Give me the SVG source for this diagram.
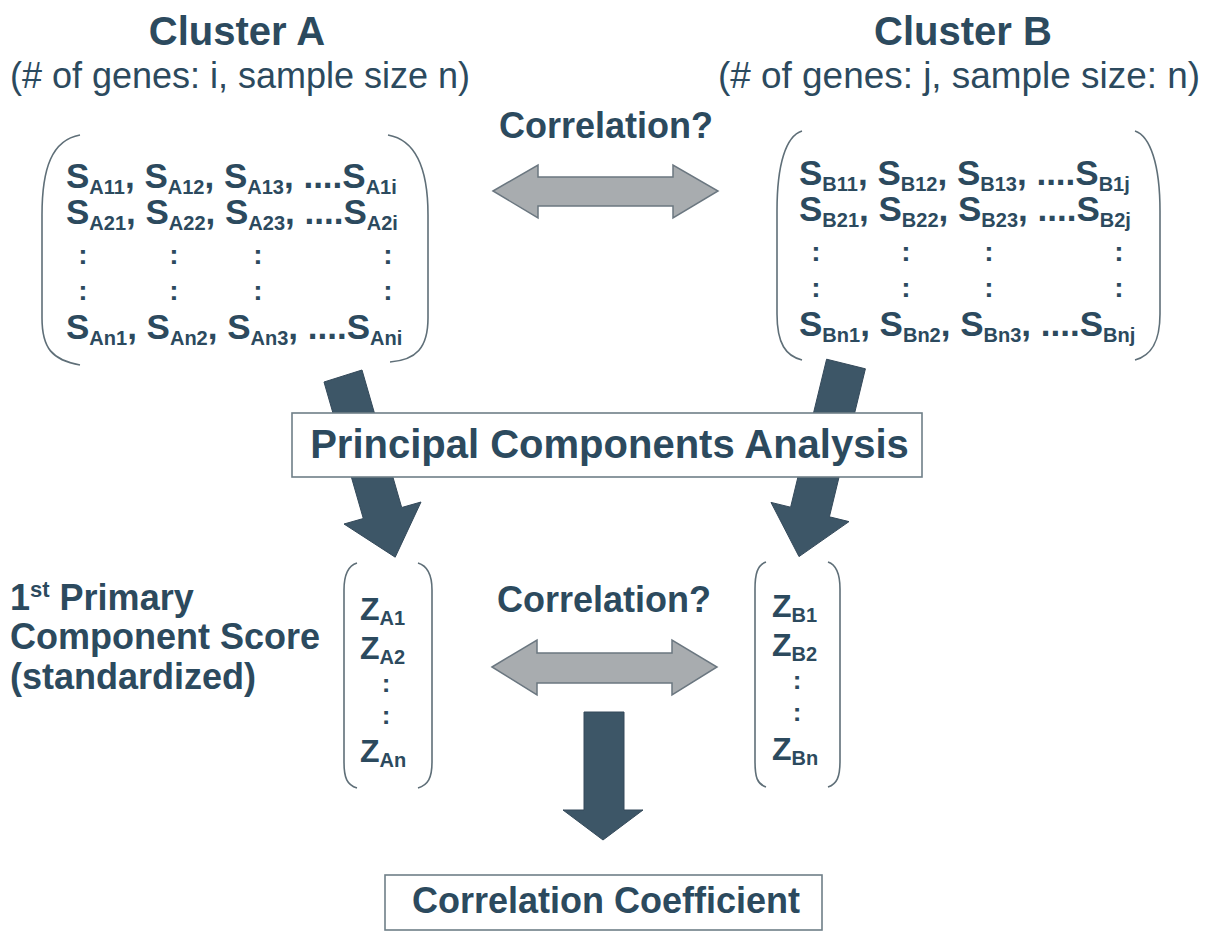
<svg xmlns="http://www.w3.org/2000/svg" width="1211" height="933" viewBox="0 0 1211 933">
<style>
text{font-family:"Liberation Sans",Arial,sans-serif;fill:#2c4a5e;font-weight:bold}
.title{font-size:40px}
.subt{font-size:36px;font-weight:normal}
.m{font-size:35px}
.c{font-size:28px}
.sub{font-size:20px}
.zs{font-size:20px}
.z{font-size:32px}
.zc{font-size:26px}
.lbl{font-size:36px}
.br{fill:none;stroke:#5f6f78;stroke-width:1.6}
.box{fill:#ffffff;stroke:#6f7f88;stroke-width:1.6}
.thick{fill:#3d5667;stroke:#34495a;stroke-width:1}
.gray{fill:#a8acaf;stroke:#6b7780;stroke-width:1.5}
</style>

<g id="connectors">
  <polygon class="gray" points="493,191 538,165 538,177 673,177 673,165 718,191 673,218 673,206 538,206 538,218"/>
  <polygon class="thick" points="324,382 362,370 401.7,507.5 421,502 395.2,557.2 344,524 363.3,518.5"/>
  <polygon class="thick" points="826.6,359.2 865.4,368.8 829.4,516.8 849,521.6 799,556.6 771,502.4 790.6,507.2"/>
  <polygon class="gray" points="492,667 537,640 537,653 672,653 672,640 717,667 672,695 672,683 537,683 537,695"/>
  <polygon class="thick" points="584,712 624,712 624,810 643,810 603,840 563,810 584,810"/>
  <text class="lbl" x="606" y="138" text-anchor="middle">Correlation?</text>
  <text class="lbl" x="604" y="612" text-anchor="middle">Correlation?</text>
</g>

<g id="clusterA-title">
  <text class="title" x="237" y="45" text-anchor="middle">Cluster A</text>
  <text class="subt" x="240" y="88" text-anchor="middle" textLength="460" lengthAdjust="spacingAndGlyphs">(# of genes: i, sample size n)</text>
</g>

<g id="clusterB-title">
  <text class="title" x="963" y="45" text-anchor="middle">Cluster B</text>
  <text class="subt" x="959" y="88" text-anchor="middle" textLength="482" lengthAdjust="spacingAndGlyphs">(# of genes: j, sample size: n)</text>
</g>

<g id="matrixA">
  <path class="br" d="M80,135 C52,140 42,168 42,215 L42,318 C42,348 52,360 80,365"/>
  <path class="br" d="M388,135 C416,140 428,168 428,215 L428,318 C428,348 416,360 390,362"/>
  <text class="m" x="66" y="188">S<tspan class="sub" dy="6">A11</tspan><tspan dy="-6">, S</tspan><tspan class="sub" dy="6">A12</tspan><tspan dy="-6">, S</tspan><tspan class="sub" dy="6">A13</tspan><tspan dy="-6">, ....S</tspan><tspan class="sub" dy="6">A1i</tspan></text>
  <text class="m" x="66" y="224">S<tspan class="sub" dy="6">A21</tspan><tspan dy="-6">, S</tspan><tspan class="sub" dy="6">A22</tspan><tspan dy="-6">, S</tspan><tspan class="sub" dy="6">A23</tspan><tspan dy="-6">, ....S</tspan><tspan class="sub" dy="6">A2i</tspan></text>
  <text class="c" x="83" y="264" text-anchor="middle">:</text>
  <text class="c" x="174" y="264" text-anchor="middle">:</text>
  <text class="c" x="258" y="264" text-anchor="middle">:</text>
  <text class="c" x="388" y="264" text-anchor="middle">:</text>
  <text class="c" x="83" y="300" text-anchor="middle">:</text>
  <text class="c" x="174" y="300" text-anchor="middle">:</text>
  <text class="c" x="258" y="300" text-anchor="middle">:</text>
  <text class="c" x="388" y="300" text-anchor="middle">:</text>
  <text class="m" x="66" y="339">S<tspan class="sub" dy="6">An1</tspan><tspan dy="-6">, S</tspan><tspan class="sub" dy="6">An2</tspan><tspan dy="-6">, S</tspan><tspan class="sub" dy="6">An3</tspan><tspan dy="-6">, ....S</tspan><tspan class="sub" dy="6">Ani</tspan></text>
</g>

<g id="matrixB">
  <path class="br" d="M802,131 C786,136 777,164 777,211 L777,314 C777,344 786,356 802,360"/>
  <path class="br" d="M1135,131 C1150,136 1160,164 1160,211 L1160,314 C1160,344 1150,356 1135,360"/>
  <text class="m" x="799" y="185">S<tspan class="sub" dy="6">B11</tspan><tspan dy="-6">, S</tspan><tspan class="sub" dy="6">B12</tspan><tspan dy="-6">, S</tspan><tspan class="sub" dy="6">B13</tspan><tspan dy="-6">, ....S</tspan><tspan class="sub" dy="6">B1j</tspan></text>
  <text class="m" x="799" y="221">S<tspan class="sub" dy="6">B21</tspan><tspan dy="-6">, S</tspan><tspan class="sub" dy="6">B22</tspan><tspan dy="-6">, S</tspan><tspan class="sub" dy="6">B23</tspan><tspan dy="-6">, ....S</tspan><tspan class="sub" dy="6">B2j</tspan></text>
  <text class="c" x="816" y="261" text-anchor="middle">:</text>
  <text class="c" x="906" y="261" text-anchor="middle">:</text>
  <text class="c" x="989" y="261" text-anchor="middle">:</text>
  <text class="c" x="1119" y="261" text-anchor="middle">:</text>
  <text class="c" x="816" y="297" text-anchor="middle">:</text>
  <text class="c" x="906" y="297" text-anchor="middle">:</text>
  <text class="c" x="989" y="297" text-anchor="middle">:</text>
  <text class="c" x="1119" y="297" text-anchor="middle">:</text>
  <text class="m" x="799" y="336">S<tspan class="sub" dy="6">Bn1</tspan><tspan dy="-6">, S</tspan><tspan class="sub" dy="6">Bn2</tspan><tspan dy="-6">, S</tspan><tspan class="sub" dy="6">Bn3</tspan><tspan dy="-6">, ....S</tspan><tspan class="sub" dy="6">Bnj</tspan></text>
</g>

<g id="pca">
  <rect class="box" x="292" y="413" width="630" height="64"/>
  <text x="609.5" y="458" text-anchor="middle" font-size="40">Principal Components Analysis</text>
</g>

<g id="score-label">
  <text class="lbl" x="10" y="610">1<tspan font-size="22" dy="-13">st</tspan><tspan dy="13"> Primary</tspan></text>
  <text class="lbl" x="10" y="649">Component Score</text>
  <text class="lbl" x="10" y="689">(standardized)</text>
</g>

<g id="zA">
  <path class="br" d="M357,563 C347,566 344,576 344,590 L344,762 C344,778 347,785 357,788"/>
  <path class="br" d="M418,563 C428,566 432,576 432,590 L432,762 C432,778 428,785 418,788"/>
  <text class="z" x="360" y="620">Z<tspan class="zs" dy="5">A1</tspan></text>
  <text class="z" x="360" y="659">Z<tspan class="zs" dy="5">A2</tspan></text>
  <text class="zc" x="386" y="692" text-anchor="middle">:</text>
  <text class="zc" x="386" y="724" text-anchor="middle">:</text>
  <text class="z" x="360" y="762">Z<tspan class="zs" dy="5">An</tspan></text>
</g>

<g id="zB">
  <path class="br" d="M766,562 C757,565 755,575 755,589 L755,761 C755,777 757,784 766,787"/>
  <path class="br" d="M828,562 C837,565 840,575 840,589 L840,761 C840,777 837,784 828,787"/>
  <text class="z" x="772" y="617">Z<tspan class="zs" dy="5">B1</tspan></text>
  <text class="z" x="772" y="656">Z<tspan class="zs" dy="5">B2</tspan></text>
  <text class="zc" x="797" y="689" text-anchor="middle">:</text>
  <text class="zc" x="797" y="721" text-anchor="middle">:</text>
  <text class="z" x="772" y="760">Z<tspan class="zs" dy="5">Bn</tspan></text>
</g>

<g id="coefficient">
  <rect class="box" x="385" y="875" width="437" height="55"/>
  <text x="606" y="913" text-anchor="middle" font-size="36">Correlation Coefficient</text>
</g>
</svg>
